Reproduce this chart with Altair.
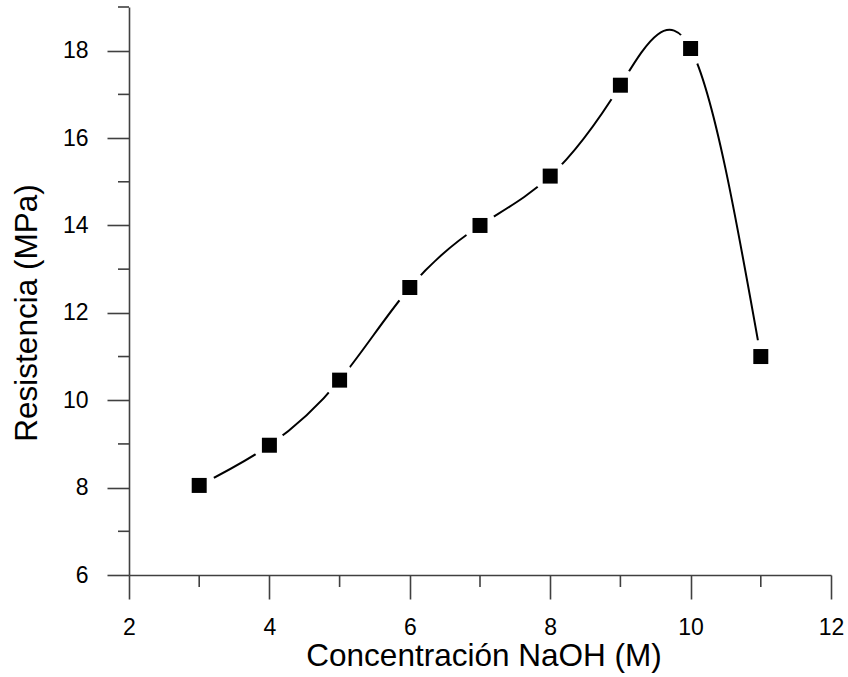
import altair as alt
import pandas as pd

# Data
concentracion = [3, 4, 5, 6, 7, 8, 9, 10, 11]
resistencia = [8.05, 8.97, 10.46, 12.58, 14.0, 15.13, 17.21, 18.05, 11.0]

x_major = [2, 4, 6, 8, 10, 12]
x_minor = [3, 5, 7, 9, 11]
y_major = [6, 8, 10, 12, 14, 16, 18]
y_minor = [7, 9, 11, 13, 15, 17, 19]

df = pd.DataFrame({"c": concentracion, "r": resistencia})
dfx_minor = pd.DataFrame({"c": x_minor})
dfy_minor = pd.DataFrame({"r": y_minor})

FONT = "Liberation Sans"
AX = "#404040"

x_axis = alt.Axis(
    values=x_major, tickSize=24,
    tickColor=AX, tickWidth=1.6, domainColor=AX, domainWidth=1.6,
    grid=False, labelFont=FONT, labelFontSize=23, labelColor="black",
    labelBaseline="alphabetic", labelPadding=35, labelOverlap=False, labelFlush=False,
    title="Concentración NaOH (M)", titleFont=FONT, titleFontSize=31.5,
    titleFontWeight="normal", titleColor="black", titleBaseline="alphabetic",
    titleAlign="center", titleX=354.5, titleY=90,
)
y_axis = alt.Axis(
    values=y_major, tickSize=22,
    tickColor=AX, tickWidth=1.6, domainColor=AX, domainWidth=1.6,
    grid=False, labelFont=FONT, labelFontSize=23, labelColor="black",
    labelBaseline="middle", labelPadding=19, labelOverlap=False, labelFlush=False,
    title="Resistencia (MPa)", titleFont=FONT, titleFontSize=31.5,
    titleFontWeight="normal", titleColor="black", titleBaseline="middle",
    titleAlign="center", titleAngle=270, titleX=-101.5, titleY=305.5,
)

xs = alt.Scale(domain=[2, 12], nice=False, zero=False)
ys = alt.Scale(domain=[6, 19], nice=False, zero=False)

base = alt.Chart(df).encode(
    x=alt.X("c:Q", scale=xs, axis=x_axis),
    y=alt.Y("r:Q", scale=ys, axis=y_axis),
)

line = base.mark_line(interpolate="natural", color="black", strokeWidth=2)
# white "gap" round each marker, as in the original plot
halo = base.mark_circle(color="white", size=1100, opacity=1)
squares = base.mark_square(color="black", size=225, opacity=1)

# minor ticks at the odd values (short tick marks hanging off the axes)
x_minor_ticks = alt.Chart(dfx_minor).mark_rule(color=AX, strokeWidth=1.6).encode(
    x=alt.X("c:Q", scale=xs, axis=x_axis),
    y=alt.value(568), y2=alt.value(580),
)
y_minor_ticks = alt.Chart(dfy_minor).mark_rule(color=AX, strokeWidth=1.6).encode(
    y=alt.Y("r:Q", scale=ys, axis=y_axis),
    x=alt.value(-11), x2=alt.value(0),
)

chart = alt.layer(x_minor_ticks, y_minor_ticks, line, halo, squares).properties(
    width=702, height=568,
    autosize=alt.AutoSizeParams(type="none"),
    padding={"left": 129, "top": 7, "right": 17, "bottom": 102},
    background="white",
).configure_view(stroke=None)

chart.save("out.html", embed_options={"renderer": "svg", "actions": False})
